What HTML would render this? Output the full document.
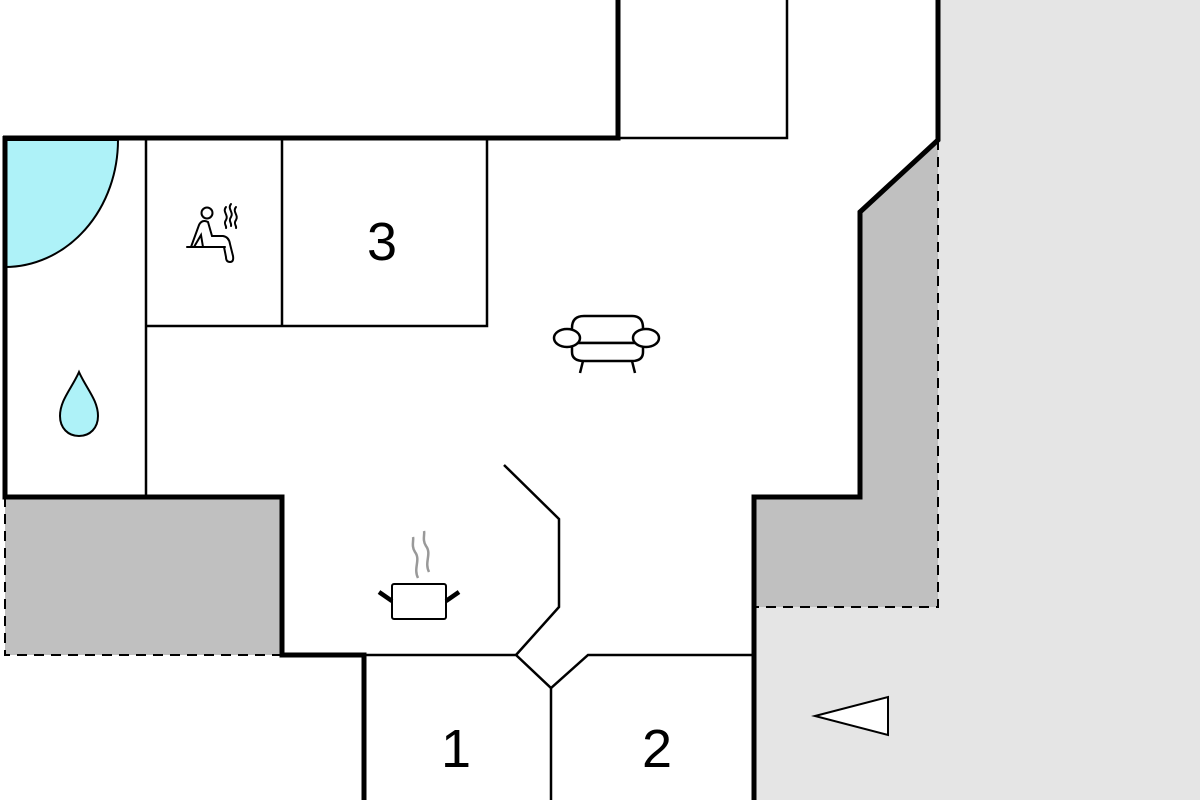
<!DOCTYPE html>
<html><head><meta charset="utf-8"><style>
html,body{margin:0;padding:0;background:#fff;width:1200px;height:800px;overflow:hidden}
svg{display:block}
text{font-family:"Liberation Sans",sans-serif;fill:#000}
</style></head><body>
<svg width="1200" height="800" viewBox="0 0 1200 800" xmlns="http://www.w3.org/2000/svg">
<rect width="1200" height="800" fill="#fff"/>
<!-- light gray -->
<polygon points="938,0 1200,0 1200,800 754,800 754,607 938,607" fill="#e5e5e5"/>
<!-- dark gray right -->
<polygon points="938,140 860,212 860,497 754,497 754,607 938,607" fill="#c0c0c0"/>
<!-- dark gray left -->
<rect x="5" y="497" width="277" height="158" fill="#c0c0c0"/>
<!-- dashed -->
<g stroke="#000" stroke-width="2" stroke-dasharray="10,7" fill="none">
<polyline points="938,140 938,607 754,607"/>
<polyline points="5,497 5,655 282,655"/>
</g>
<!-- blue quarter -->
<path d="M5,140 L118,140 A113,127 0 0 1 5,267 Z" fill="#aef2f8" stroke="#000" stroke-width="2"/>
<!-- thin lines -->
<g stroke="#000" stroke-width="2.5" fill="none">
<polyline points="618,138 787,138 787,0"/>
<line x1="146" y1="138" x2="146" y2="497"/>
<polyline points="146,326 487,326 487,138"/>
<line x1="282" y1="138" x2="282" y2="326"/>
<polyline points="364,655 516,655 551,688 588,655 754,655"/>
<line x1="551" y1="688" x2="551" y2="800"/>
<polyline points="504,465 559,519 559,607 516,655"/>
</g>
<!-- thick walls -->
<g stroke="#000" stroke-width="5" fill="none" stroke-linejoin="miter">
<polyline points="618,0 618,138 3,138"/>
<polyline points="5,136 5,497 282,497 282,655 364,655 364,800"/>
<polyline points="938,0 938,140 860,212 860,497 754,497 754,800"/>
</g>
<!-- triangle -->
<polygon points="815,716 888,697 888,735" fill="#fff" stroke="#000" stroke-width="2"/>
<!-- numbers -->
<text x="382" y="260" font-size="54" text-anchor="middle">3</text>
<text x="456" y="767" font-size="54" text-anchor="middle">1</text>
<text x="657" y="767" font-size="54" text-anchor="middle">2</text>
<!-- drop -->
<path d="M79,372 C72,388 60,400 60,416 C60,428 68,436 79,436 C90,436 98,428 98,416 C98,400 86,388 79,372 Z" fill="#aef2f8" stroke="#000" stroke-width="2"/>
<!-- sofa -->
<g stroke="#000" stroke-width="2.5" fill="#fff">
<path d="M572,343 L572,328 Q572,316 584,316 L632,316 Q643,316 643,328 L643,343 Z"/>
<path d="M572,343 L643,343 L643,352 Q643,361 632,361 L584,361 Q572,361 572,352 Z"/>
<ellipse cx="567" cy="338" rx="13" ry="9"/>
<ellipse cx="646" cy="338" rx="13" ry="9"/>
<line x1="583" y1="361" x2="580" y2="373"/>
<line x1="632" y1="361" x2="635" y2="373"/>
</g>
<!-- pot -->
<g stroke="#000" stroke-width="2" fill="#fff">
<rect x="392" y="584" width="54" height="35" rx="2"/>
</g>
<g stroke="#000" stroke-width="4.5">
<line x1="379" y1="592" x2="392" y2="601"/>
<line x1="459" y1="592" x2="446" y2="601"/>
</g>
<g stroke="#999" stroke-width="2.5" fill="none">
<path d="M418,578 C413,568 421,560 415,552 C411,546 414,540 413,537"/>
<path d="M429,572 C424,562 432,554 426,546 C422,540 425,534 424,531"/>
</g>
<!-- sauna -->
<g stroke="#000" stroke-width="2" fill="none" stroke-linecap="round">
<circle cx="207" cy="213" r="5.5"/>
<path d="M191,247 L199,225 Q202,219 208,222 L212,236 L223,236 Q229,237 230,244 L233,256 Q234,262 230,262 Q226,262 226,257 L224,247"/>
<path d="M194,247 L201,235 L203,247"/>
<line x1="187" y1="247" x2="225" y2="247"/>
<path d="M226,207 C222,212 229,215 226,220 C223,224 227,226 226,228"/>
<path d="M231,204 C227,209 234,212 231,217 C228,221 232,223 231,226"/>
<path d="M236,207 C232,212 239,215 236,220 C233,224 237,226 236,228"/>
</g>
</svg>
</body></html>
